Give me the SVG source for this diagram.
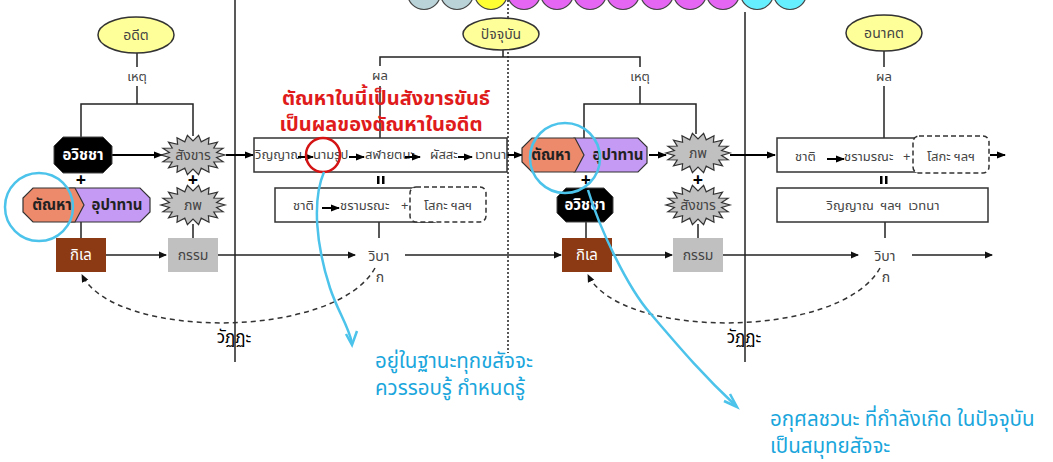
<svg xmlns="http://www.w3.org/2000/svg" xmlns:xlink="http://www.w3.org/1999/xlink" width="1053" height="462" viewBox="0 0 1053 462">
<style>
text{font-family:'Noto Sans','Noto Sans Thai','Liberation Sans',sans-serif}
.ln{stroke:#222;stroke-width:1.5;fill:none}
.ar{stroke:#222;stroke-width:1.5;fill:none;marker-end:url(#ah)}
.ar2{stroke:#000;stroke-width:2;fill:none;marker-end:url(#ah2)}
.box{fill:#fff;stroke:#333;stroke-width:1.5}
.dbox{fill:#fff;stroke:#333;stroke-width:1.5;stroke-dasharray:5 3}
.ell{fill:#FFFF99;stroke:#333;stroke-width:1.5}
.lbl{font-size:13px;fill:#444;text-anchor:middle}
.t{font-size:13px;fill:#444}
.tc{font-size:13px;fill:#444;text-anchor:middle}
.wt{font-size:15px;fill:#fff;text-anchor:middle;font-weight:bold}
.dk{font-size:15px;fill:#222;text-anchor:middle;font-weight:bold}
.st{font-size:14px;fill:#444;text-anchor:middle}
.plus{font-size:18px;font-weight:bold;fill:#000;text-anchor:middle}
.red{font-size:20px;font-weight:bold;fill:#E01B1B;text-anchor:middle}
.blue{font-size:20.5px;fill:#1AA6DC}
.star{fill:#C0C0C0;stroke:#333;stroke-width:1.2}
.dash{stroke:#333;stroke-width:1.5;fill:none;stroke-dasharray:5 4;marker-end:url(#ah)}
.bc{fill:none;stroke:#4CC3EA;stroke-width:2.5}
.vt{font-size:17px;fill:#000;text-anchor:middle}
</style>
<defs>
<marker id="ah" markerWidth="8" markerHeight="8" refX="7" refY="4" orient="auto" markerUnits="userSpaceOnUse"><path d="M0,0.5 L8,4 L0,7.5 Z" fill="#111"/></marker>
<marker id="ah2" markerWidth="9" markerHeight="8" refX="8" refY="4" orient="auto" markerUnits="userSpaceOnUse"><path d="M0,0.5 L9,4 L0,7.5 Z" fill="#000"/></marker>
<polygon id="star" class="star" points="32,0 23.6,2.4 30.1,6.8 20.8,7 24.5,12.9 15.4,10.7 16,17.3 8.2,13.2 5.6,19.7 0,14 -5.6,19.7 -8.2,13.2 -16,17.3 -15.4,10.7 -24.5,12.9 -20.8,7 -30.1,6.8 -23.6,2.4 -32,0 -23.6,-2.4 -30.1,-6.8 -20.8,-7 -24.5,-12.9 -15.4,-10.7 -16,-17.3 -8.2,-13.2 -5.6,-19.7 0,-14 5.6,-19.7 8.2,-13.2 16,-17.3 15.4,-10.7 24.5,-12.9 20.8,-7 30.1,-6.8 23.6,-2.4"/>
</defs>

<g id="top-circles" stroke="#444" stroke-width="1.2">
<circle cx="424" cy="-7" r="16.5" fill="#B9D3D8"/>
<circle cx="457" cy="-7" r="16.5" fill="#B9D3D8"/>
<circle cx="491" cy="-7" r="16.5" fill="#FFFF33"/>
<circle cx="524" cy="-7" r="16.5" fill="#E466F2"/>
<circle cx="557" cy="-7" r="16.5" fill="#E466F2"/>
<circle cx="590" cy="-7" r="16.5" fill="#E466F2"/>
<circle cx="623" cy="-7" r="16.5" fill="#E466F2"/>
<circle cx="657" cy="-7" r="16.5" fill="#E466F2"/>
<circle cx="690" cy="-7" r="16.5" fill="#E466F2"/>
<circle cx="723" cy="-7" r="16.5" fill="#E466F2"/>
<circle cx="757" cy="-7" r="16.5" fill="#66F0FF"/>
<circle cx="790" cy="-7" r="16.5" fill="#66F0FF"/>
</g>

<g id="dividers">
<line x1="235" y1="0" x2="235" y2="362" stroke="#222" stroke-width="1.5"/>
<line x1="745" y1="12" x2="745" y2="362" stroke="#222" stroke-width="1.5"/>
<line x1="508" y1="0" x2="508" y2="353" stroke="#222" stroke-width="1.5" stroke-dasharray="2 2"/>
</g>

<g id="connectors">
<line class="ln" x1="137" y1="53" x2="137" y2="67"/>
<line class="ln" x1="137" y1="86" x2="137" y2="104"/>
<polyline class="ln" points="81,140 81,104 193,104 193,136"/>
<line class="ln" x1="503" y1="50" x2="503" y2="57"/>
<polyline class="ln" points="380,66 380,57 640,57 640,67"/>
<line class="ln" x1="380" y1="86" x2="380" y2="138"/>
<line class="ln" x1="640" y1="86" x2="640" y2="104"/>
<polyline class="ln" points="584,138 584,104 696,104 696,134"/>
<line class="ln" x1="884" y1="51" x2="884" y2="67"/>
<line class="ln" x1="884" y1="86" x2="884" y2="138"/>

<line class="ar2" x1="112" y1="155" x2="162" y2="155"/>
<line class="ar2" x1="226" y1="155" x2="253" y2="155"/>
<line class="ar2" x1="507" y1="155" x2="522" y2="155"/>
<line class="ar2" x1="649" y1="155" x2="666" y2="155"/>
<line class="ar2" x1="730" y1="155" x2="775" y2="155"/>
<line class="ar2" x1="990" y1="155" x2="1005" y2="155"/>

<line class="ln" x1="81" y1="222" x2="81" y2="238"/>
<line class="ln" x1="193" y1="224" x2="193" y2="238"/>
<line class="ln" x1="379" y1="222" x2="379" y2="238"/>
<line class="ln" x1="586" y1="222" x2="586" y2="238"/>
<line class="ln" x1="698" y1="224" x2="698" y2="238"/>
<line class="ln" x1="885" y1="222" x2="885" y2="238"/>

<line class="ar" x1="106" y1="255" x2="166" y2="255"/>
<line class="ar" x1="218" y1="255" x2="355" y2="255"/>
<line class="ar" x1="405" y1="255" x2="561" y2="255"/>
<line class="ar" x1="612" y1="255" x2="672" y2="255"/>
<line class="ar" x1="723" y1="255" x2="858" y2="255"/>
<line class="ar" x1="912" y1="255" x2="992" y2="255"/>

<path class="dash" d="M375,268 C335,340 115,340 82,275"/>
<path class="dash" d="M880,268 C840,340 620,340 588,275"/>
</g>

<g id="n-adit"><ellipse class="ell" cx="136" cy="35" rx="38" ry="18"/><text class="tc" x="136" y="40" style="font-size:14px">อดีต</text></g>
<g id="n-paccuban"><ellipse class="ell" cx="501" cy="34" rx="38" ry="16"/><text class="tc" x="501" y="39" style="font-size:14px">ปัจจุบัน</text></g>
<g id="n-anakhot"><ellipse class="ell" cx="884" cy="33" rx="38" ry="18"/><text class="tc" x="884" y="38" style="font-size:14px">อนาคต</text></g>

<g id="labels">
<text class="lbl" x="137" y="81">เหตุ</text>
<text class="lbl" x="380" y="80">ผล</text>
<text class="lbl" x="640" y="81">เหตุ</text>
<text class="lbl" x="884" y="81">ผล</text>
</g>

<g id="n-avijja1"><polygon points="63,137 103,137 112,146 112,164 103,173 63,173 54,164 54,146" fill="#000" stroke="#444"/><text class="wt" x="83" y="160">อวิชชา</text></g>
<g id="n-sankhara1"><use href="#star" xlink:href="#star" transform="translate(193,155)"/><text class="st" x="193" y="160">สังขาร</text></g>
<g id="n-plus1"><text class="plus" x="81" y="186">+</text><text class="plus" x="193" y="186">+</text></g>
<g id="n-upadana1"><polygon points="70,188 140,188 150,198 150,212 140,222 70,222" fill="#C59AF5" stroke="#333" stroke-width="1.2"/><text class="dk" x="117" y="210">อุปาทาน</text></g>
<g id="n-tanha1"><polygon points="33,188 75,188 84,205 75,222 33,222 23,212 23,198" fill="#EE8A6C" stroke="#333" stroke-width="1.2"/><text class="dk" x="52" y="210">ตัณหา</text></g>
<g id="n-bhava1"><use href="#star" xlink:href="#star" transform="translate(193,205)"/><text class="st" x="193" y="210">ภพ</text></g>
<g id="n-kilesa1"><rect x="56" y="238" width="50" height="34" fill="#8B3A14"/><text class="wt" x="81" y="260" style="font-weight:normal">กิเล</text></g>
<g id="n-kamma1"><rect x="168" y="238" width="50" height="34" fill="#C0C0C0"/><text class="st" x="193" y="260">กรรม</text></g>

<g id="n-box1"><rect class="box" x="254" y="138" width="253" height="34"/>
<text class="t" x="255" y="159">วิญญาณ</text>
<text class="t" x="313" y="159">นามรูป</text>
<text class="t" x="365" y="159">สฬายตนะ</text>
<text class="t" x="430" y="159">ผัสสะ</text>
<text class="t" x="475" y="159">เวทนา</text>
<line class="ar2" x1="298" y1="157" x2="313" y2="157"/>
<line class="ar2" x1="349" y1="157" x2="364" y2="157"/>
<line class="ar2" x1="405" y1="157" x2="420" y2="157"/>
<line class="ar2" x1="458" y1="157" x2="472" y2="157"/>
</g>
<g id="n-eq1"><rect x="377" y="176" width="2.5" height="8" fill="#000"/><rect x="382" y="176" width="2.5" height="8" fill="#000"/></g>
<g id="n-box2"><rect class="box" x="275" y="188" width="160" height="34"/>
<text class="t" x="293" y="210">ชาติ</text>
<line class="ar2" x1="322" y1="208" x2="339" y2="208"/>
<text class="t" x="340" y="210">ชรามรณะ</text>
<text class="t" x="401" y="210">+</text>
<rect class="dbox" x="410" y="187" width="76" height="35" rx="6"/>
<text class="tc" x="448" y="210">โสกะ ฯลฯ</text>
</g>
<g id="n-vipaka1"><text class="tc" x="379" y="261" style="font-size:14px">วิบา</text><text class="tc" x="380" y="282" style="font-size:14px">ก</text></g>
<text class="vt" x="234" y="343">วัฏฏะ</text>

<g id="n-upadana2"><polygon points="574,138 638,138 647,147 647,163 638,172 574,172" fill="#C59AF5" stroke="#333" stroke-width="1.2"/><text class="dk" x="618" y="160">อุปาทาน</text></g>
<g id="n-tanha2"><polygon points="532,138 575,138 584,155 575,172 532,172 522,162 522,148" fill="#EE8A6C" stroke="#333" stroke-width="1.2"/><text class="dk" x="551" y="160">ตัณหา</text></g>
<g id="n-bhava2"><use href="#star" xlink:href="#star" transform="translate(698,153)"/><text class="st" x="698" y="158">ภพ</text></g>
<g id="n-plus2"><text class="plus" x="586" y="186">+</text><text class="plus" x="698" y="186">+</text></g>
<g id="n-avijja2"><polygon points="566,188 604,188 613,197 613,213 604,222 566,222 557,213 557,197" fill="#000" stroke="#444"/><text class="wt" x="585" y="210">อวิชชา</text></g>
<g id="n-sankhara2"><use href="#star" xlink:href="#star" transform="translate(698,205)"/><text class="st" x="698" y="210">สังขาร</text></g>
<g id="n-kilesa2"><rect x="562" y="238" width="50" height="34" fill="#8B3A14"/><text class="wt" x="587" y="260" style="font-weight:normal">กิเล</text></g>
<g id="n-kamma2"><rect x="673" y="238" width="50" height="34" fill="#C0C0C0"/><text class="st" x="698" y="260">กรรม</text></g>

<g id="n-box3"><rect class="box" x="777" y="138" width="180" height="34"/>
<text class="t" x="795" y="161">ชาติ</text>
<line class="ar2" x1="827" y1="159" x2="844" y2="159"/>
<text class="t" x="844" y="161">ชรามรณะ</text>
<text class="t" x="903" y="161">+</text>
<rect class="dbox" x="913" y="136" width="76" height="37" rx="6"/>
<text class="tc" x="951" y="161">โสกะ ฯลฯ</text>
</g>
<g id="n-eq2"><rect x="880" y="176" width="2.5" height="8" fill="#000"/><rect x="885" y="176" width="2.5" height="8" fill="#000"/></g>
<g id="n-box4"><rect class="box" x="777" y="188" width="211" height="34"/><text class="tc" x="883" y="210" xml:space="preserve">วิญญาณ  ฯลฯ  เวทนา</text></g>
<g id="n-vipaka2"><text class="tc" x="885" y="261" style="font-size:14px">วิบา</text><text class="tc" x="886" y="282" style="font-size:14px">ก</text></g>
<text class="vt" x="744" y="343">วัฏฏะ</text>

<g id="annot-red">
<text class="red" x="386" y="105">ตัณหาในนี้เป็นสังขารขันธ์</text>
<text class="red" x="381" y="131">เป็นผลของตัณหาในอดีต</text>
<circle cx="323" cy="155" r="17" fill="none" stroke="#D41414" stroke-width="2.5"/>
</g>
<g id="annot-blue">
<circle class="bc" cx="39" cy="207" r="34"/>
<circle class="bc" cx="565" cy="158" r="35"/>
<path class="bc" d="M324,172 C312,200 316,245 330,288 C338,312 348,325 352,343"/>
<path class="bc" d="M346,334 L352,345 L357,331"/>
<path class="bc" d="M588,190 C600,230 628,288 650,313 C680,348 700,372 736,406"/>
<path class="bc" d="M724,401 L737,407 L730,394"/>
<text class="blue" x="375" y="368">อยู่ในฐานะทุกขสัจจะ</text>
<text class="blue" x="375" y="395">ควรรอบรู้ กำหนดรู้</text>
<text class="blue" x="770" y="426">อกุศลชวนะ ที่กำลังเกิด ในปัจจุบัน</text>
<text class="blue" x="770" y="453">เป็นสมุทยสัจจะ</text>
</g>
</svg>
